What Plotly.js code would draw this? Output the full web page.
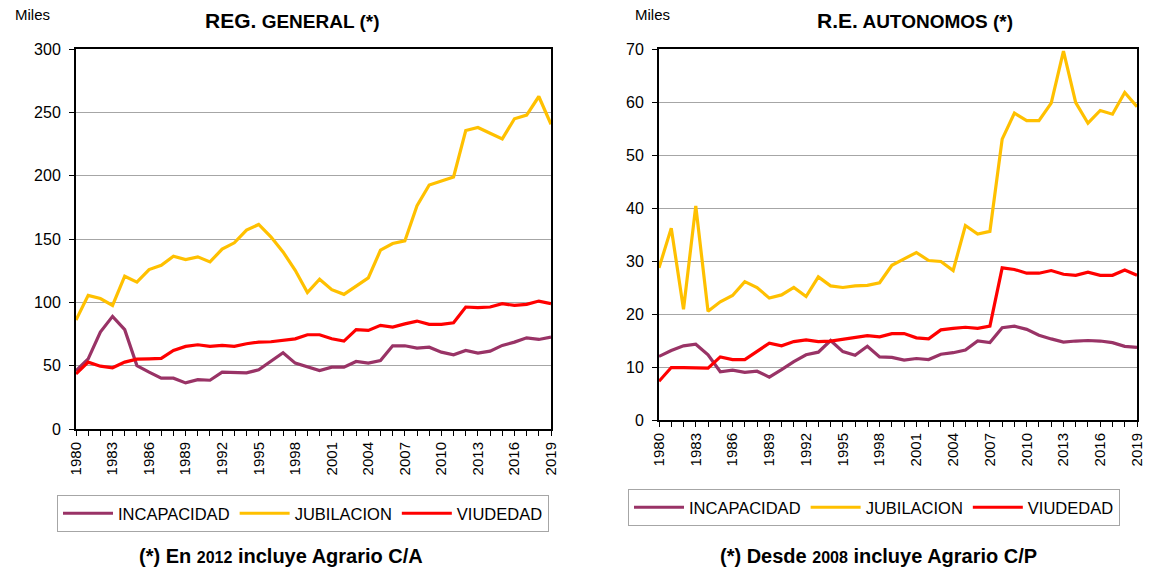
<!DOCTYPE html>
<html><head><meta charset="utf-8">
<script src="https://cdn.plot.ly/plotly-3.0.1.min.js"></script>
<style>html,body{margin:0;padding:0;background:#fff}#c{width:1152px;height:573px}</style>
</head><body><div id="c"></div>
<script>
const years = [1980,1981,1982,1983,1984,1985,1986,1987,1988,1989,1990,1991,1992,1993,1994,1995,1996,1997,1998,1999,2000,2001,2002,2003,2004,2005,2006,2007,2008,2009,2010,2011,2012,2013,2014,2015,2016,2017,2018,2019];
const seriesNames = ['INCAPACIDAD','JUBILACION','VIUDEDAD'];
// Régimen General (miles)
const incapGeneral = [46,55.4,76.5,88.9,78.4,50.1,44.9,40.1,40.1,36.4, 39,38.5,44.9,44.3,44.3,46.7,53.6,60.2,52,48.8, 46.2,48.8,48.8,53.3,52,54.1,65.7,65.7,63.9,64.6, 60.7,58.6,62,59.9,61.5,66,68.6,72,70.7,72.5];
const jubGeneral = [86,105.5,103,97.6,120.6,116,125.9,129.3,136.4,133.8, 135.9,131.9,142,147,157,161.5,151.7,139.8,125.3,107.7, 118.2,110,106.3,112.7,119.3,141.2,146.4,148.5,176.3,192.6, 196,199,235.6,238,233.5,229,244.9,247.8,262.5,240.6];
const viuGeneral = [43.5,52.8,49.6,48.3,52.8,55.1,55.4,55.7,62,65.2, 66.5,65.2,66,65.2,67.3,68.6,68.9,69.9,71.2,74.4, 74.4,71.2,69.4,78.4,77.8,81.8,80.5,83,85.2,82.6, 82.6,83.9,96.3,95.8,96.3,98.9,97.6,98.4,101,98.9];
// R.E. Autónomos (miles)
const incapAuto = [12,13.1,14,14.3,12.3,9.1,9.4,9,9.2,8.1, 9.5,11,12.3,12.8,15,12.9,12.2,13.9,11.9,11.8, 11.3,11.6,11.4,12.4,12.7,13.2,14.9,14.6,17.4,17.7, 17.1,16,15.3,14.7,14.9,15,14.9,14.6,13.9,13.7];
const jubAuto = [28.7,36.2,20.9,40.4,20.5,22.3,23.5,26.1,25,23, 23.6,25,23.3,27,25.3,25,25.3,25.4,25.9,29.2, 30.4,31.6,30.1,29.9,28.2,36.7,35.1,35.6,53,57.9, 56.5,56.5,59.8,69.6,59.9,56,58.4,57.7,61.8,59.1];
const viuAuto = [7.3,9.9,9.9,9.9,9.8,11.9,11.4,11.4,13,14.5, 14,14.8,15.1,14.8,14.9,15.2,15.5,15.9,15.7,16.3, 16.3,15.5,15.3,17,17.3,17.5,17.3,17.7,28.7,28.4, 27.7,27.7,28.2,27.5,27.3,27.9,27.3,27.3,28.3,27.3];

const colors = ['#993366','#FFC000','#FF0000'];
const FONT = 'Liberation Sans, Arial, sans-serif';
const W = 1152, H = 573;
const px = v => v / W, py = v => (H - v) / H;

function mk(y, i, xa, ya, lg) {
  return {x: years, y: y, type: 'scatter', mode: 'lines', name: seriesNames[i],
    line: {color: colors[i], width: 3.2}, xaxis: xa, yaxis: ya, legend: lg, hoverinfo: 'x+y'};
}
const data = [
  mk(incapGeneral,0,'x','y','legend'), mk(jubGeneral,1,'x','y','legend'), mk(viuGeneral,2,'x','y','legend'),
  mk(incapAuto,0,'x2','y2','legend2'), mk(jubAuto,1,'x2','y2','legend2'), mk(viuAuto,2,'x2','y2','legend2')
];

function xaxis(d, anchor) {
  return {domain: d, anchor: anchor, range: [1980, 2019], tickmode: 'linear', tick0: 1980, dtick: 3,
    tickangle: -90, ticks: 'outside', ticklen: 5, tickwidth: 1, tickcolor: '#000',
    minor: {dtick: 1, ticks: 'outside', ticklen: 5, tickcolor: '#000', showgrid: false},
    showline: true, linecolor: '#000', linewidth: 2, mirror: true, showgrid: false, zeroline: false,
    tickfont: {family: FONT, size: 15, color: '#000'}, fixedrange: true};
}
function yaxis(d, anchor, max, dt) {
  return {domain: d, anchor: anchor, range: [0, max], dtick: dt, ticks: 'outside', ticklen: 5, tickcolor: '#000',
    ticklabelstandoff: 5,
    showline: true, linecolor: '#000', linewidth: 2, mirror: true, showgrid: true, gridcolor: '#a6a6a6', gridwidth: 1,
    zeroline: false, tickfont: {family: FONT, size: 16, color: '#000'}, fixedrange: true};
}

const legendBase = {orientation: 'h', bordercolor: '#a6a6a6', borderwidth: 1, bgcolor: '#fff',
  font: {family: FONT, size: 16.5, color: '#000'}, xanchor: 'left', yanchor: 'top', itemwidth: 50};

function note(text, x, y, size) {
  return {text: text, x: px(x), y: py(y), xref: 'paper', yref: 'paper', xanchor: 'center', yanchor: 'middle',
    showarrow: false, font: {family: FONT, size: size, color: '#000'}};
}

const layout = {
  width: W, height: H, margin: {l: 0, r: 0, t: 0, b: 0}, paper_bgcolor: '#fff', plot_bgcolor: '#fff',
  showlegend: true,
  xaxis: xaxis([px(76), px(551)], 'y'),
  yaxis: yaxis([py(429), py(49)], 'x', 300, 50),
  xaxis2: xaxis([px(659), px(1137)], 'y2'),
  yaxis2: yaxis([py(420), py(49)], 'x2', 70, 10),
  legend: Object.assign({}, legendBase, {x: px(57), y: py(495)}),
  legend2: Object.assign({}, legendBase, {x: px(628), y: py(489)}),
  annotations: [
    note('Miles', 32, 15, 15),
    note('Miles', 652, 15, 15),
    note('<b><span style="font-size:21px">REG.</span> <span style="font-size:19px">GENERAL (*)</span></b>', 292, 20, 19),
    note('<b><span style="font-size:21px">R.E.</span> <span style="font-size:19px">AUTONOMOS (*)</span></b>', 915, 20, 19),
    note('<b>(*) En <span style="font-size:16px">2012</span> incluye Agrario C/A</b>', 281, 556, 20),
    note('<b>(*) Desde <span style="font-size:16px">2008</span> incluye Agrario C/P</b>', 878, 556, 20)
  ]
};
Plotly.newPlot('c', data, layout, {displayModeBar: false, staticPlot: true});
</script></body></html>
